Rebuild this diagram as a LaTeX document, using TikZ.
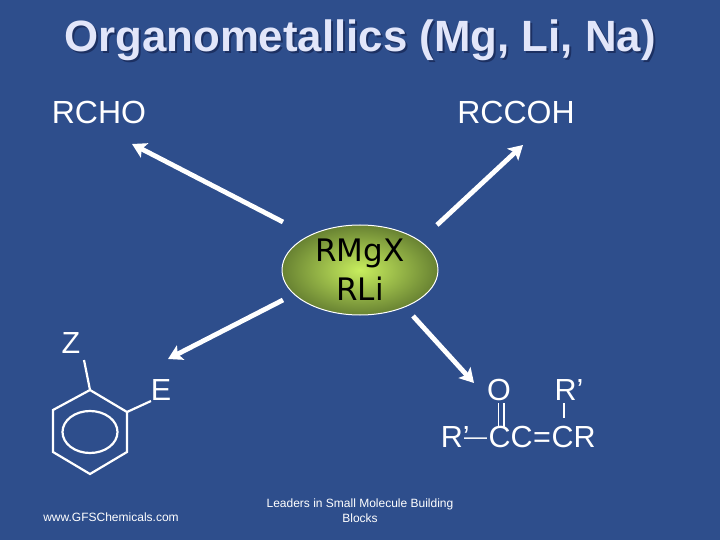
\documentclass[tikz,border=0pt]{standalone}
\usepackage{fontspec}
\setmainfont{Liberation Sans}
\newfontfamily\hubfont{DejaVu Sans}
\usetikzlibrary{shapes.geometric, arrows.meta, positioning}
\definecolor{slideblue}{RGB}{46,78,140}
\definecolor{titlelilac}{RGB}{226,230,250}
\definecolor{titleshade}{RGB}{28,48,98}
\newcommand{\shadowed}[1]{\rlap{\kern2pt\raisebox{-2pt}{\textcolor{titleshade}{#1}}}#1}
\tikzstyle{heading} = [inner sep=0pt, anchor=base, text=titlelilac, font=\fontsize{43.8}{44}\selectfont\bfseries]
\tikzstyle{label} = [inner sep=0pt, anchor=base, text=white, font=\fontsize{32}{32}\selectfont]
\tikzstyle{chem} = [inner sep=0pt, anchor=base, text=white, font=\fontsize{30.5}{31}\selectfont]
\tikzstyle{footer} = [inner sep=0pt, anchor=base, text=white, align=center, font=\fontsize{12}{15}\selectfont]
\tikzstyle{hub} = [ellipse, draw=white, line width=1pt, minimum width=156pt, minimum height=90pt, inner sep=0pt, align=center, inner color={rgb,255:red,200;green,238;blue,94}, outer color={rgb,255:red,104;green,130;blue,50}, font=\hubfont\fontsize{31}{39}\selectfont]
\tikzstyle{arrow} = [white,line width=4.8pt,-{Stealth[length=14pt,width=16pt,inset=3pt]}]
\tikzstyle{bond} = [white,line width=2.2pt]
\tikzstyle{thinbond} = [white,line width=1.6pt]

\begin{document}
\begin{tikzpicture}[x=1pt,y=-1pt]
    \useasboundingbox (0,0) rectangle (720,540);
    \fill [slideblue] (0,0) rectangle (720,540);
    \node (title) [heading] at (360,52) {\shadowed{Organometallics (Mg, Li, Na)}};
    \node (rcho) [label] at (99,124) {RCHO};
    \node (rccoh) [label] at (516,124) {RCCOH};
    \node (rmgx) [hub] at (360,270) {RMgX\\RLi};
    \node (zsub) [chem] at (71,353) {Z};
    \node (esub) [chem] at (161,400) {E};
    \node (keto) [chem] at (499,400) {O};
    \node (rprime) [chem] at (569,400) {R’};
    \node (chain) [chem] at (518.2,447) {R’\kern-5.4pt\raisebox{3pt}{\fontsize{23}{23}\selectfont—}\kern1.5pt CC\kern.5pt=\kern.5pt CR};
    \node (siteurl) [footer] at (111,521) {www.GFSChemicals.com};
    \node (slogan) [footer, anchor=north] at (360,499) {Leaders in Small Molecule Building\\Blocks};
    % arrows
    \coordinate (nw0) at (283,222); \coordinate (nw1) at (132,144);
    \coordinate (ne0) at (437,225); \coordinate (ne1) at (523,145);
    \coordinate (sw0) at (283,300); \coordinate (sw1) at (168,359);
    \coordinate (se0) at (413,316); \coordinate (se1) at (474,383);
    \draw [arrow] (nw0) -- (nw1);
    \draw [arrow] (ne0) -- (ne1);
    \draw [arrow] (sw0) -- (sw1);
    \draw [arrow] (se0) -- (se1);
    % ring
    \coordinate (r1) at (90,390); \coordinate (r2) at (127,412);
    \coordinate (r3) at (127,452); \coordinate (r4) at (90,474);
    \coordinate (r5) at (53,452); \coordinate (r6) at (53,410);
    \coordinate (zbond) at (84,360); \coordinate (ebond) at (151,401);
    \draw [bond] (r1) -- (r2) -- (r3) -- (r4) -- (r5) -- (r6) -- cycle;
    \draw [bond] (90,432) ellipse (27.5 and 21);
    \draw [bond] (zbond) -- (r1);
    \draw [bond] (ebond) -- (r2);
    % bonds of the side chain
    \coordinate (co1) at (498.5,403); \coordinate (co2) at (498.5,427);
    \coordinate (co3) at (504,403); \coordinate (co4) at (504,427);
    \coordinate (rb1) at (564,403); \coordinate (rb2) at (564,418);
    \draw [thinbond] (co1) -- (co2);
    \draw [thinbond] (co3) -- (co4);
    \draw [thinbond] (rb1) -- (rb2);
\end{tikzpicture}
\end{document}
